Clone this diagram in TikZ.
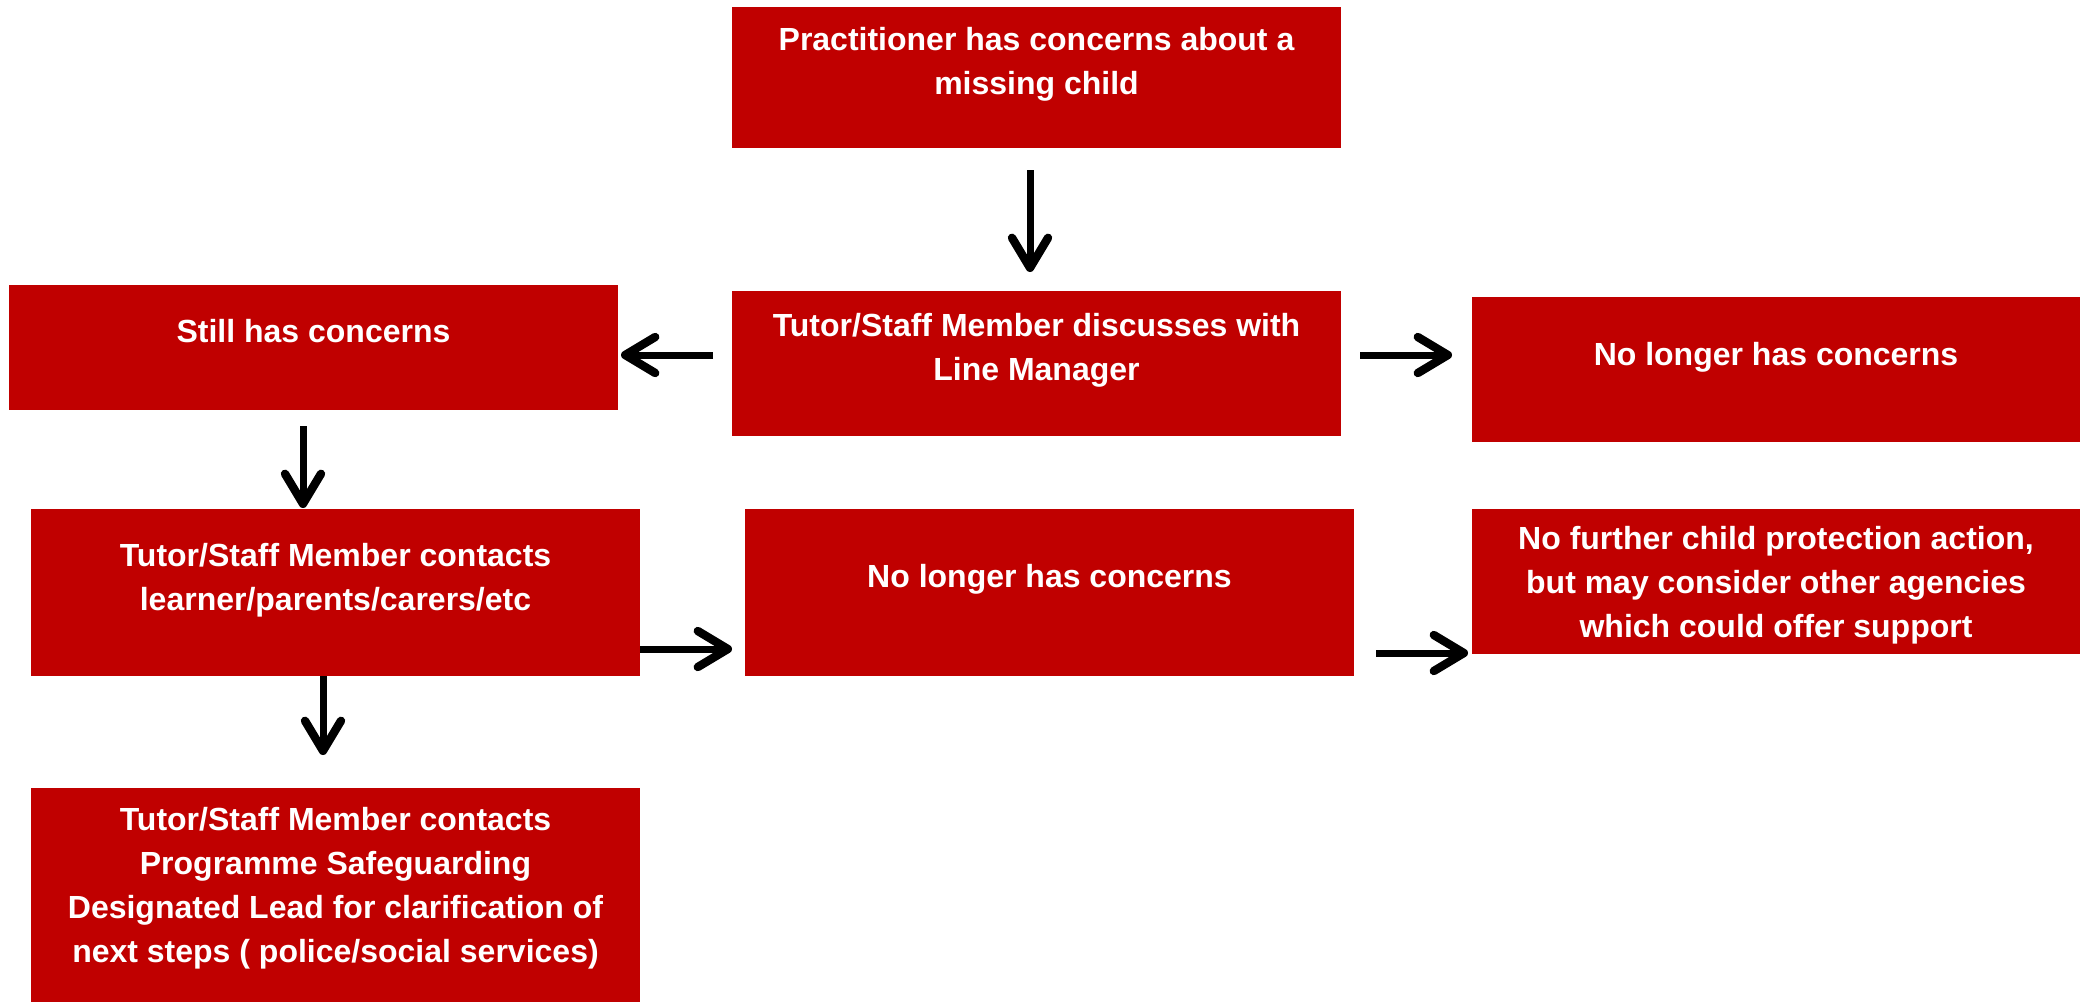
\documentclass[tikz,border=0pt]{standalone}
\usepackage{fontspec}
\setmainfont{Liberation Sans}
\usetikzlibrary{arrows.meta}
\definecolor{boxred}{RGB}{192,0,0}
\tikzset{
  box/.style={fill=boxred, draw=none, inner sep=0pt, outer sep=0pt, rectangle},
  lbl/.style={text=white, font=\bfseries\fontsize{16}{22}\selectfont, align=center, inner sep=0pt},
  conn/.style={line width=3.5pt, -{Straight Barb[length=15pt, width=18pt, round, line width=4.2pt]}}
}
\begin{document}
\begin{tikzpicture}[x=0.5pt, y=-0.5pt]
\useasboundingbox (0,0) rectangle (2080,1002);
% boxes
\node[box, minimum width=304.5pt, minimum height=70.5pt] (b1) at (1036.5,77.5) {};
\node[box, minimum width=304.5pt, minimum height=72.5pt] (b2) at (1036.5,363.5) {};
\node[box, minimum width=304.5pt, minimum height=62.5pt] (b3) at (313.5,347.5) {};
\node[box, minimum width=304pt, minimum height=72.5pt] (b4) at (1776,369.5) {};
\node[box, minimum width=304.5pt, minimum height=83.5pt] (b5) at (335.5,592.5) {};
\node[box, minimum width=304.5pt, minimum height=83.5pt] (b6) at (1049.5,592.5) {};
\node[box, minimum width=304pt, minimum height=72.5pt] (b7) at (1776,581.5) {};
\node[box, minimum width=304.5pt, minimum height=107pt] (b8) at (335.5,895) {};
% texts
\node[lbl] (t1) at (1036.5,64) {Practitioner has concerns about a\\missing child};
\node[lbl] (t2) at (1036.5,350) {Tutor/Staff Member discusses with\\Line Manager};
\node[lbl] (t3) at (313.5,331) {Still has concerns};
\node[lbl] (t4) at (1776,357) {No longer has concerns};
\node[lbl] (t5) at (335.5,580) {Tutor/Staff Member contacts\\learner/parents/carers/etc};
\node[lbl] (t6) at (1049.5,579) {No longer has concerns};
\node[lbl] (t7) at (1776,585) {No further child protection action,\\but may consider other agencies\\which could offer support};
\node[lbl] (t8) at (335.5,888) {Tutor/Staff Member contacts\\Programme Safeguarding\\Designated Lead for clarification of\\next steps ( police/social services)};
% connectors
\draw[conn, shorten <=11pt, shorten >=9.5pt] ([xshift=-3.25pt]b1.south) -- ([xshift=-3.25pt]b2.north);
\draw[conn, shorten <=9.5pt, shorten >=1.5pt] ([yshift=4.25pt]b2.west) -- ([yshift=4.25pt]b2.west -| b3.east);
\draw[conn, shorten <=9.5pt, shorten >=10pt] ([yshift=4.25pt]b2.east) -- ([yshift=4.25pt]b2.east -| b4.west);
\draw[conn, shorten <=8pt, shorten >=0.5pt] ([xshift=-5.25pt]b3.south) -- ([xshift=-5.25pt]b3.south |- b5.north);
\draw[conn, shorten >=6.5pt] ([yshift=-28.25pt]b5.east) -- ([yshift=-28.25pt]b5.east -| b6.west);
\draw[conn, shorten >=16.5pt] ([xshift=-6.25pt]b5.south) -- ([xshift=-6.25pt]b5.south |- b8.north);
\draw[conn, shorten <=11pt, shorten >=2pt] ([yshift=-30.25pt]b6.east) -- ([yshift=-30.25pt]b6.east -| b7.west);
\end{tikzpicture}
\end{document}
